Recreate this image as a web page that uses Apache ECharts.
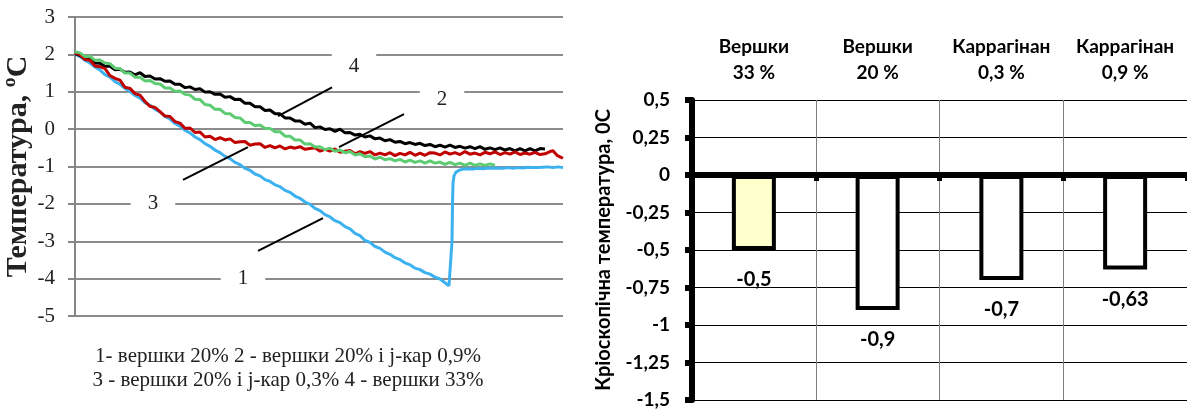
<!DOCTYPE html>
<html>
<head>
<meta charset="utf-8">
<script src="https://cdn.jsdelivr.net/npm/echarts@6/dist/echarts.min.js"></script>
<style>
  html, body { margin: 0; padding: 0; background: #fff; }
  #chart { width: 1187px; height: 412px; }
</style>
</head>
<body>
<div id="chart"></div>
<script>
// Cooling curves, pairs of [time, temperature °C]
// 1 - вершки 20%
const curve1 = [[0,2.02],[5,1.94],[10,1.84],[15,1.77],[20,1.66],[25,1.58],[30,1.46],[35,1.39],[40,1.27],[45,1.20],[50,1.09],[55,1.01],[60,0.90],[65,0.83],[70,0.71],[75,0.64],[80,0.53],[85,0.46],[90,0.34],[95,0.27],[100,0.15],[105,0.08],[110,-0.03],[115,-0.10],[120,-0.21],[125,-0.28],[130,-0.39],[135,-0.46],[140,-0.56],[145,-0.63],[150,-0.73],[155,-0.79],[160,-0.89],[165,-0.95],[170,-1.05],[175,-1.10],[180,-1.20],[185,-1.25],[190,-1.35],[195,-1.40],[200,-1.49],[205,-1.54],[210,-1.64],[215,-1.69],[220,-1.79],[225,-1.85],[230,-1.95],[235,-2.01],[240,-2.12],[245,-2.18],[250,-2.29],[255,-2.35],[260,-2.45],[265,-2.50],[270,-2.61],[275,-2.67],[280,-2.79],[285,-2.85],[290,-2.98],[295,-3.03],[300,-3.14],[305,-3.19],[310,-3.29],[315,-3.35],[320,-3.44],[325,-3.49],[330,-3.58],[335,-3.63],[340,-3.72],[345,-3.76],[350,-3.84],[355,-3.88],[360,-3.96],[365,-4.01],[370,-4.11],[374,-4.19],[376,-4.22],[377,-3.0],[377.5,-2.0],[378,-1.45],[379,-1.25],[381,-1.15],[384,-1.10],[388,-1.07],[393,-1.06],[398,-1.07],[403,-1.05],[408,-1.06],[413,-1.04],[418,-1.05],[423,-1.04],[428,-1.05],[433,-1.03],[438,-1.05],[443,-1.03],[448,-1.04],[453,-1.02],[458,-1.03],[463,-1.03],[468,-1.02],[473,-1.01],[478,-1.03],[483,-1.01],[488,-1.03]];
// 2 - вершки 20% і j-кар 0,9%
const curve2 = [[0,2.07],[5,2.04],[10,1.94],[15,1.95],[20,1.84],[25,1.85],[30,1.77],[35,1.75],[40,1.63],[45,1.62],[50,1.50],[55,1.50],[60,1.39],[65,1.39],[70,1.29],[75,1.30],[80,1.22],[85,1.21],[90,1.10],[95,1.10],[100,1.01],[105,1.02],[110,0.93],[115,0.91],[120,0.80],[125,0.79],[130,0.66],[135,0.64],[140,0.53],[145,0.53],[150,0.42],[155,0.41],[160,0.31],[165,0.30],[170,0.18],[175,0.18],[180,0.09],[185,0.11],[190,0.02],[195,0.02],[200,-0.07],[205,-0.07],[210,-0.19],[215,-0.19],[220,-0.29],[225,-0.29],[230,-0.40],[235,-0.39],[240,-0.48],[245,-0.47],[250,-0.55],[255,-0.51],[260,-0.59],[265,-0.56],[270,-0.63],[275,-0.60],[280,-0.69],[285,-0.66],[290,-0.74],[295,-0.72],[300,-0.80],[305,-0.75],[310,-0.82],[315,-0.79],[320,-0.85],[325,-0.81],[330,-0.88],[335,-0.83],[340,-0.89],[345,-0.85],[350,-0.91],[355,-0.85],[360,-0.91],[365,-0.88],[370,-0.94],[375,-0.89],[380,-0.95],[385,-0.91],[390,-0.97],[395,-0.91],[400,-0.97],[405,-0.93],[410,-0.97],[415,-0.93],[420,-0.97]];
// 3 - вершки 20% і j-кар 0,3%
const curve3 = [[0,2.04],[5,1.99],[10,1.86],[15,1.84],[20,1.69],[25,1.67],[30,1.62],[35,1.43],[40,1.36],[45,1.31],[50,1.12],[55,1.09],[60,0.95],[65,0.91],[70,0.74],[75,0.61],[80,0.58],[85,0.47],[90,0.35],[95,0.34],[100,0.20],[105,0.16],[110,0.02],[115,0.03],[120,-0.09],[125,-0.08],[130,-0.21],[135,-0.19],[140,-0.28],[145,-0.23],[150,-0.29],[155,-0.26],[160,-0.36],[165,-0.34],[170,-0.33],[175,-0.43],[180,-0.40],[185,-0.39],[190,-0.49],[195,-0.44],[200,-0.50],[205,-0.45],[210,-0.53],[215,-0.48],[220,-0.51],[225,-0.47],[230,-0.54],[235,-0.52],[240,-0.50],[245,-0.59],[250,-0.54],[255,-0.59],[260,-0.53],[265,-0.62],[270,-0.59],[275,-0.57],[280,-0.66],[285,-0.60],[290,-0.65],[295,-0.60],[300,-0.69],[305,-0.64],[310,-0.69],[315,-0.63],[320,-0.71],[325,-0.65],[330,-0.69],[335,-0.62],[340,-0.70],[345,-0.64],[350,-0.70],[355,-0.63],[360,-0.64],[365,-0.69],[370,-0.61],[375,-0.67],[380,-0.63],[385,-0.68],[390,-0.60],[395,-0.67],[400,-0.64],[405,-0.69],[410,-0.62],[415,-0.66],[420,-0.61],[425,-0.68],[430,-0.63],[435,-0.67],[440,-0.61],[445,-0.68],[450,-0.64],[455,-0.67],[460,-0.62],[465,-0.68],[470,-0.66],[475,-0.60],[478,-0.58],[482,-0.70],[485,-0.74],[488,-0.78]];
// 4 - вершки 33%
const curve4 = [[0,2.02],[5,1.97],[10,1.88],[15,1.87],[20,1.77],[25,1.76],[30,1.68],[35,1.68],[40,1.59],[45,1.60],[50,1.52],[55,1.53],[60,1.45],[65,1.51],[70,1.41],[75,1.42],[80,1.34],[85,1.35],[90,1.28],[95,1.29],[100,1.20],[105,1.20],[110,1.11],[115,1.13],[120,1.06],[125,1.08],[130,0.99],[135,1.00],[140,0.93],[145,0.94],[150,0.85],[155,0.87],[160,0.79],[165,0.80],[170,0.69],[175,0.69],[180,0.60],[185,0.60],[190,0.50],[195,0.51],[200,0.41],[205,0.41],[210,0.30],[215,0.30],[220,0.22],[225,0.22],[230,0.13],[235,0.16],[240,0.04],[245,0.06],[250,-0.01],[255,0.01],[260,-0.06],[265,0.00],[270,-0.10],[275,-0.09],[280,-0.16],[285,-0.14],[290,-0.21],[295,-0.18],[300,-0.26],[305,-0.24],[310,-0.31],[315,-0.28],[320,-0.35],[325,-0.33],[330,-0.39],[335,-0.36],[340,-0.41],[345,-0.38],[350,-0.44],[355,-0.41],[360,-0.47],[365,-0.43],[370,-0.48],[375,-0.43],[380,-0.49],[385,-0.46],[390,-0.51],[395,-0.47],[400,-0.52],[405,-0.47],[410,-0.54],[415,-0.50],[420,-0.55],[425,-0.50],[430,-0.56],[435,-0.52],[440,-0.58],[445,-0.52],[450,-0.58],[455,-0.52],[460,-0.58],[465,-0.52],[470,-0.53]];

const curveNames = ['1', '2', '3', '4'];
const legendLines = ['1- вершки 20% 2 - вершки 20% і j-кар 0,9%', '3 - вершки 20% і j-кар 0,3% 4 - вершки 33%'];

// Cryoscopic temperature per sample
const sampleNames = ['Вершки\n33 %', 'Вершки\n20 %', 'Каррагінан\n0,3 %', 'Каррагінан\n0,9 %'];
const freezeTemps = [-0.5, -0.9, -0.7, -0.63];

const serif = '"Liberation Serif", "Times New Roman", serif';
const sans = 'Lato, "Open Sans", sans-serif';
const comma = v => String(v).replace('.', ',');

const barFills = ['#ffffcc', '#ffffff', '#ffffff', '#ffffff'];

const curveLine = (name, data, color, z) => ({
  type: 'line', name, data, xAxisIndex: 0, yAxisIndex: 0,
  showSymbol: false, symbol: 'none', silent: true, z,
  lineStyle: { color, width: 3 }, itemStyle: { color }
});

const chart = echarts.init(document.getElementById('chart'), null, { renderer: 'canvas' });
chart.setOption({
  animation: false,
  title: {
    text: legendLines.join('\n'), left: 283, top: 339, textAlign: 'center',
    textStyle: { fontFamily: serif, fontSize: 21, fontWeight: 'normal', color: '#222', lineHeight: 24 }
  },
  grid: [
    { left: 75, top: 17, width: 488, height: 299 },
    { left: 692, top: 100, width: 497, height: 300 }
  ],
  xAxis: [
    { gridIndex: 0, type: 'value', min: 0, max: 488, show: false },
    {
      gridIndex: 1, type: 'category', data: sampleNames, position: 'bottom',
      axisLine: { onZero: true, lineStyle: { color: '#000', width: 6 } },
      axisTick: { show: true, length: 6, lineStyle: { color: '#000', width: 5 } },
      axisLabel: { show: false },
      splitLine: { show: true, lineStyle: { color: '#7f7f7f', width: 1 } }
    },
    {
      gridIndex: 1, type: 'category', data: sampleNames, position: 'top',
      axisLine: { show: false, onZero: false }, axisTick: { show: false },
      axisLabel: { interval: 0, margin: 14, fontFamily: sans, fontWeight: 'bold', fontSize: 19, color: '#000', lineHeight: 26 }
    }
  ],
  yAxis: [
    {
      gridIndex: 0, type: 'value', min: -5, max: 3, interval: 1,
      axisLine: { show: true, lineStyle: { color: '#868686', width: 2 } },
      axisTick: { show: true, length: 7, lineStyle: { color: '#868686', width: 2 } },
      axisLabel: { margin: 20, fontFamily: serif, fontSize: 21, color: '#222' },
      splitLine: { lineStyle: { color: '#8c8c8c', width: 2 } },
      name: 'Температура, ºС', nameLocation: 'middle', nameGap: 42,
      nameTextStyle: { fontFamily: serif, fontSize: 30, fontWeight: 'bold', color: '#222' }
    },
    {
      gridIndex: 1, type: 'value', min: -1.5, max: 0.5, interval: 0.25,
      axisLine: { show: true, onZero: false, lineStyle: { color: '#000', width: 6 } },
      axisTick: { show: true, length: 7, lineStyle: { color: '#000', width: 6 } },
      axisLabel: { margin: 22, fontFamily: sans, fontWeight: 'bold', fontSize: 19, color: '#000', formatter: comma },
      splitLine: { lineStyle: { color: '#000', width: 1 } },
      name: 'Кріоскопічна температура, 0С', nameLocation: 'middle', nameGap: 78,
      nameTextStyle: { fontFamily: sans, fontWeight: 'bold', fontSize: 20, color: '#000' }
    }
  ],
  series: [
    curveLine(curveNames[0], curve1, '#3cb1ef', 2),
    curveLine(curveNames[3], curve4, '#000000', 3),
    curveLine(curveNames[2], curve3, '#c00000', 4),
    curveLine(curveNames[1], curve2, '#5dcb72', 5),
    {
      // leader lines from the curve numbers to the curves
      type: 'lines', coordinateSystem: 'cartesian2d', xAxisIndex: 0, yAxisIndex: 0,
      silent: true, z: 6, symbol: 'none',
      lineStyle: { color: '#000', width: 2, opacity: 1, curveness: 0 },
      data: [
        { coords: [[257, 1.12], [203, 0.35]] },
        { coords: [[329, 0.40], [264, -0.48]] },
        { coords: [[108, -1.36], [173, -0.48]] },
        { coords: [[183, -3.26], [248, -2.38]] }
      ]
    },
    {
      // curve numbers in white boxes
      type: 'scatter', xAxisIndex: 0, yAxisIndex: 0, symbolSize: 0, silent: true, z: 7,
      itemStyle: { color: 'transparent', opacity: 1 },
      label: {
        show: true, position: 'inside', formatter: '{b}',
        fontFamily: serif, fontSize: 21, color: '#222',
        backgroundColor: '#fff', padding: [5, 17]
      },
      data: [
        { name: curveNames[3], value: [279, 1.68] },
        { name: curveNames[1], value: [367, 0.78] },
        { name: curveNames[2], value: [78, -2.0] },
        { name: curveNames[0], value: [168, -4.0] }
      ]
    },
    {
      type: 'bar', xAxisIndex: 1, yAxisIndex: 1, barWidth: 44, silent: true, z: 3,
      data: freezeTemps.map((v, i) => ({ value: v, itemStyle: { color: barFills[i] } })),
      itemStyle: { borderColor: '#000', borderWidth: 4 },
      label: {
        show: true, position: 'bottom', distance: 20, formatter: p => comma(p.value),
        fontFamily: sans, fontWeight: 'bold', fontSize: 20, color: '#000'
      }
    }
  ]
});
</script>
</body>
</html>
